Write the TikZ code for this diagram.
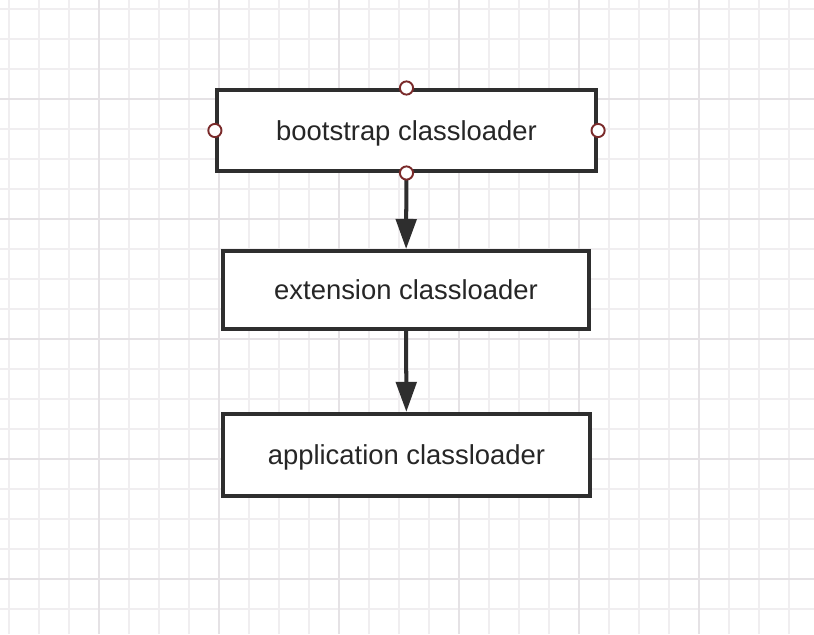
\documentclass[tikz,border=0pt]{standalone}
\usepackage{fontspec}
\setmainfont{Liberation Sans}
\usepackage{tikz}
\usetikzlibrary{arrows.meta, positioning}
\usepackage{xcolor}
\definecolor{boxline}{HTML}{2E2E2E}
\definecolor{portred}{HTML}{7A2A2A}
\definecolor{gridminor}{HTML}{F0EEF0}
\definecolor{gridmajor}{HTML}{E5E2E5}

\begin{document}
\begin{tikzpicture}[
  loader/.style={draw=boxline, line width=1.9pt, fill=white,
    minimum height=1.33cm, inner sep=0pt, text depth=0pt,
    align=center, font=\fontsize{13}{15}\selectfont, text=black!85},
  arr/.style={draw=boxline, line width=1.9pt,
    -{Triangle[width=0.34cm, length=0.5cm]}},
  port/.style={circle, draw=portred, line width=0.9pt, fill=white,
    minimum size=0.22cm, inner sep=0pt},
  minorln/.style={draw=gridminor, line width=0.95pt},
  majorln/.style={draw=gridmajor, line width=0.95pt}
]
\useasboundingbox[fill=white] (0,0) rectangle (13.567,-10.567);

% background grid
\foreach \i in {0,...,26}
  \draw[minorln] ({0.15+0.5*\i},0) -- ({0.15+0.5*\i},-10.567);
\foreach \j in {0,...,20}
  \draw[minorln] (0,{-0.15-0.5*\j}) -- (13.567,{-0.15-0.5*\j});
\foreach \i in {0,...,5}
  \draw[majorln] ({1.65+2*\i},0) -- ({1.65+2*\i},-10.567);
\foreach \j in {0,...,4}
  \draw[majorln] (0,{-1.65-2*\j}) -- (13.567,{-1.65-2*\j});

\node[loader, minimum width=6.32cm, minimum height=1.35cm] (boot) at (6.775,-2.175)
    {bootstrap classloader};

\node[loader, minimum width=6.1cm, minimum height=1.3cm] (ext) at (6.767,-4.833)
    {extension classloader};

\node[loader, minimum width=6.12cm, minimum height=1.37cm] (app) at (6.775,-7.583)
    {application classloader};

\draw[arr] (boot) -- (ext);
\draw[arr] (ext) -- (app);

\node[port] (pn) at (boot.north) {};
\node[port] (pw) at (boot.west) {};
\node[port] (pe) at (boot.east) {};
\node[port] (ps) at (boot.south) {};
\end{tikzpicture}
\end{document}
